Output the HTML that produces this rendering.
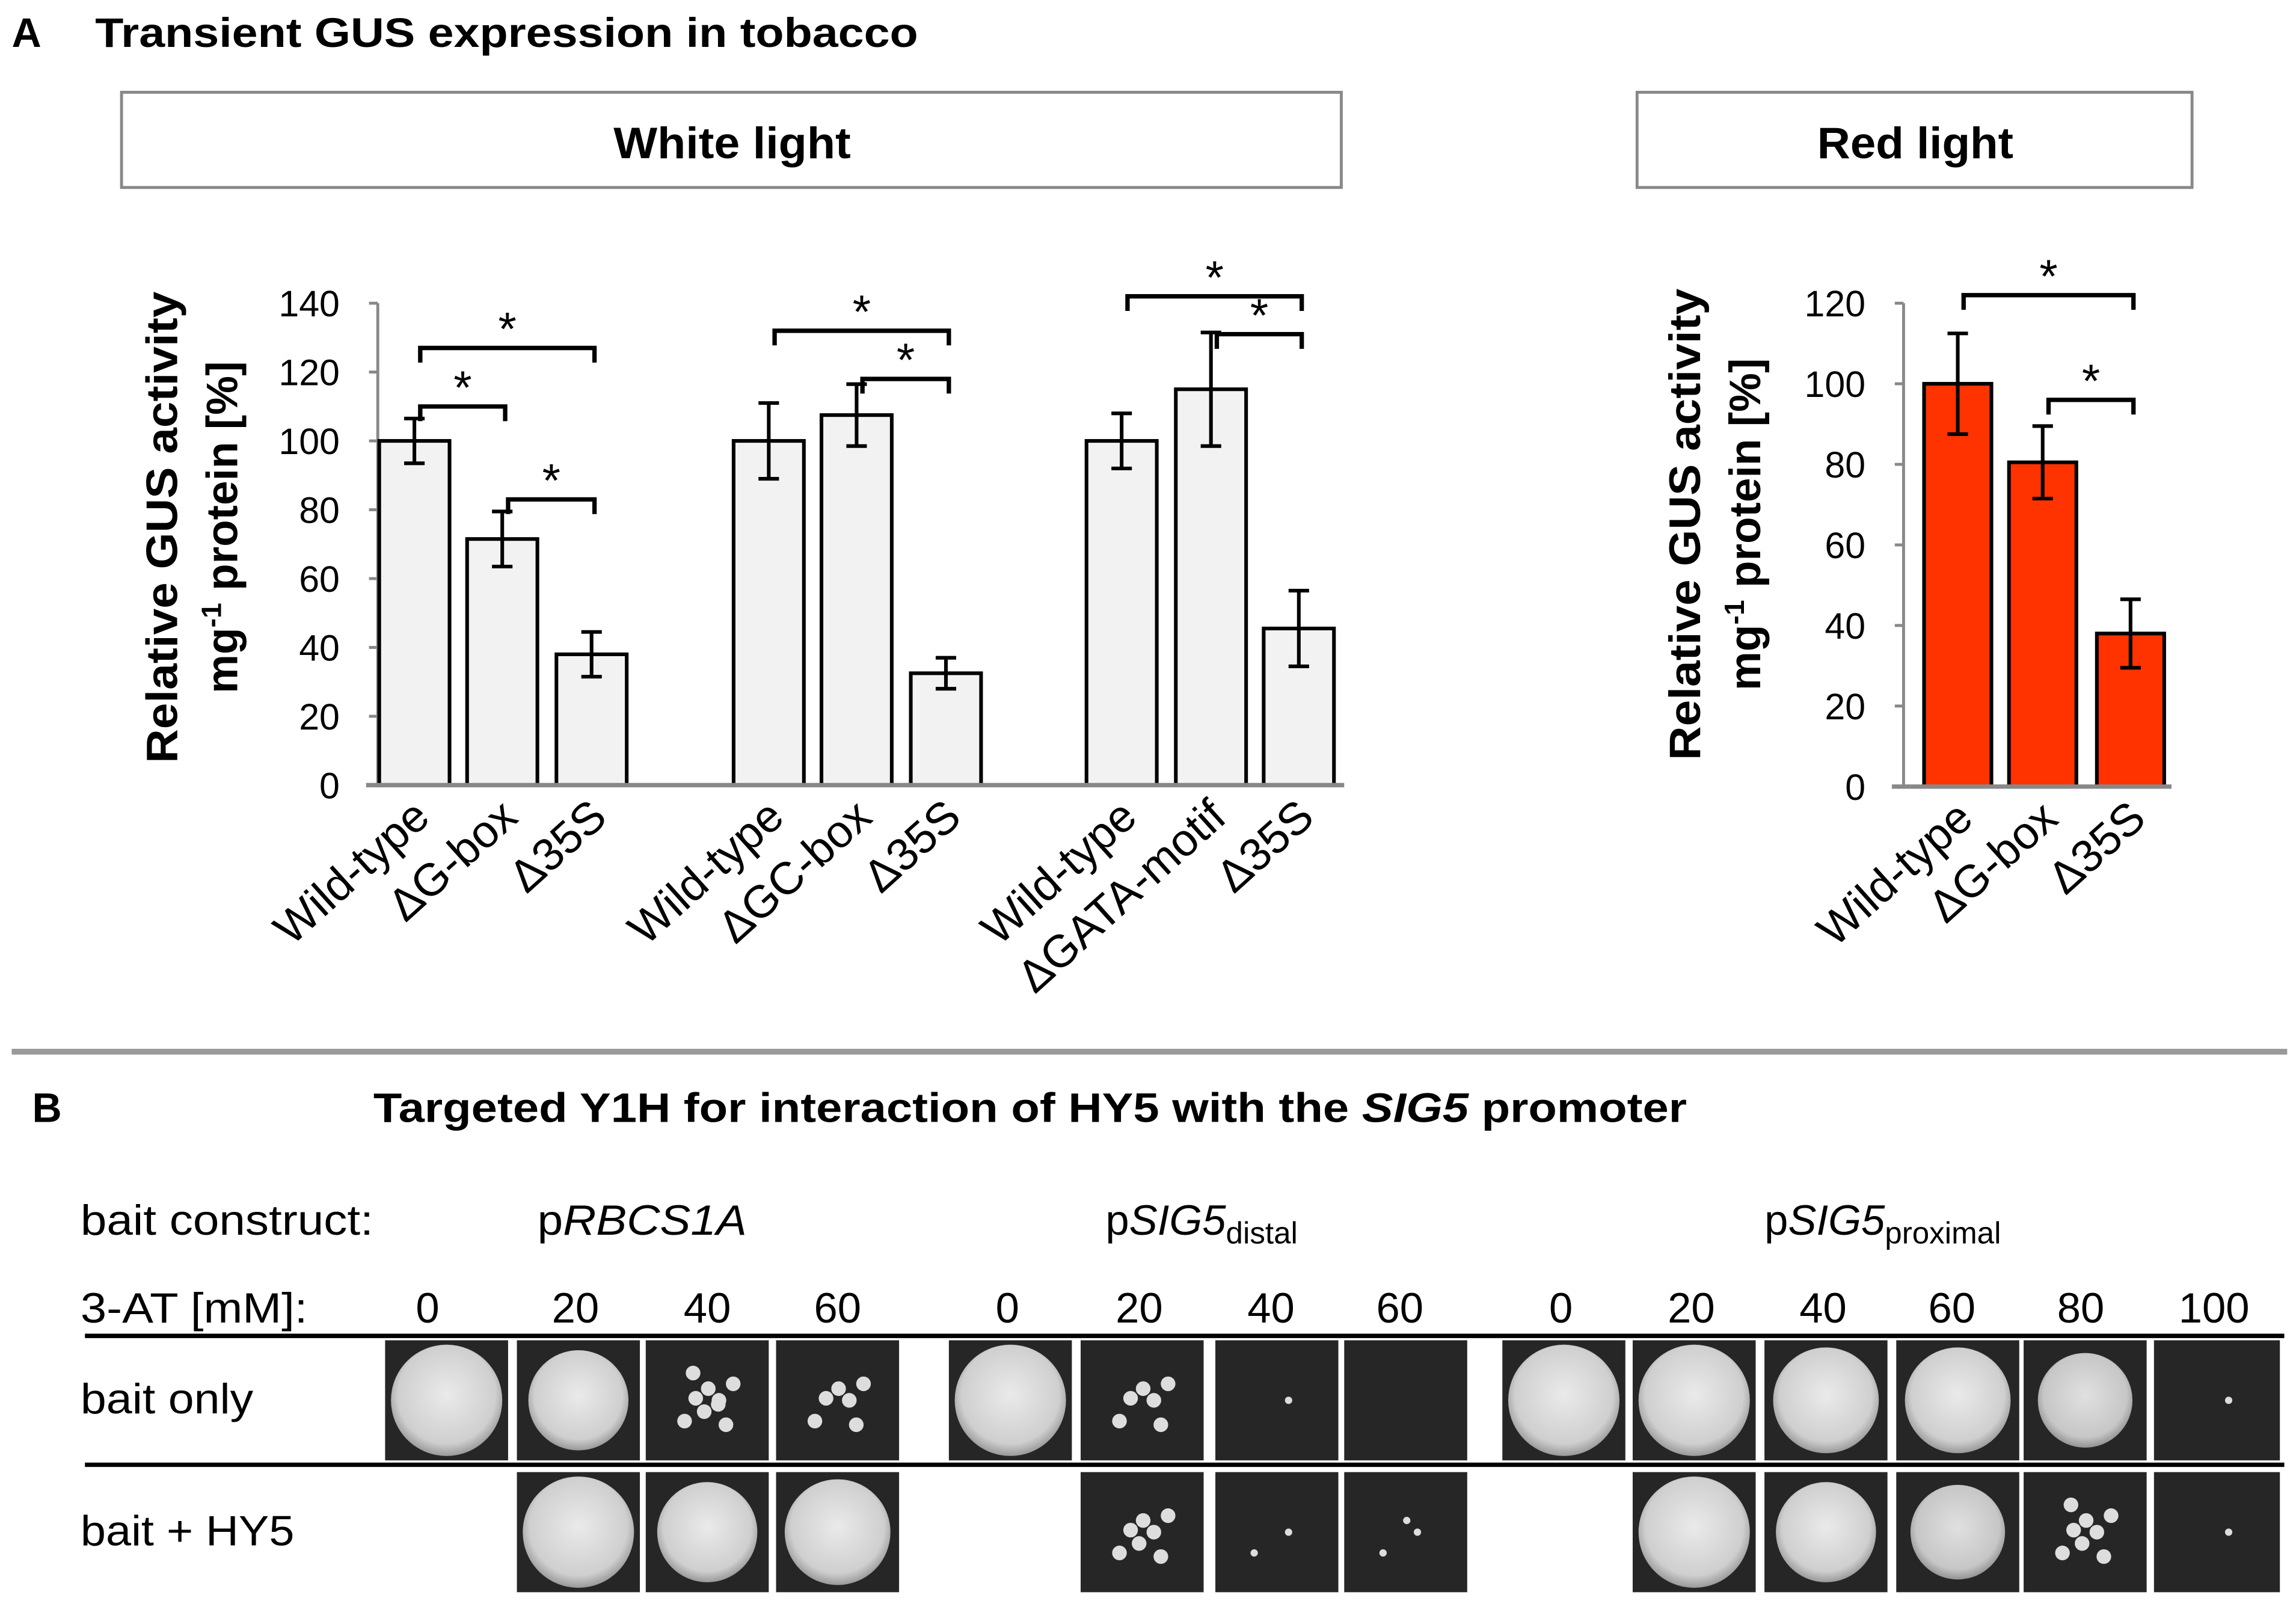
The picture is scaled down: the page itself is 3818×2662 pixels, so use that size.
<!DOCTYPE html>
<html><head><meta charset="utf-8"><style>
html,body{margin:0;padding:0;background:#fff}
svg{display:block}
text{font-family:"Liberation Sans",sans-serif}
</style></head><body>
<svg id="fig" xmlns="http://www.w3.org/2000/svg" width="3818" height="2662" viewBox="0 0 1568 1093" preserveAspectRatio="none">
<defs>
<radialGradient id="col" cx="50%" cy="45%" r="55%"><stop offset="0" stop-color="#eaeaea"/><stop offset="0.8" stop-color="#cfcfcf"/><stop offset="1" stop-color="#999"/></radialGradient>
</defs>
<text x="8" y="32" font-size="28" font-weight="bold">A</text>
<text x="65" y="32" font-size="28" font-weight="bold" textLength="562" lengthAdjust="spacingAndGlyphs">Transient GUS expression in tobacco</text>
<rect x="83" y="63" width="833" height="65" fill="#fff" stroke="#888" stroke-width="2"/>
<text x="500" y="108" font-size="30" font-weight="bold" text-anchor="middle" textLength="162" lengthAdjust="spacingAndGlyphs">White light</text>
<rect x="1118" y="63" width="379" height="65" fill="#fff" stroke="#888" stroke-width="2"/>
<text x="1308" y="108" font-size="30" font-weight="bold" text-anchor="middle" textLength="134" lengthAdjust="spacingAndGlyphs">Red light</text>
<g id="white-chart"></g>
<g id="red-chart"></g>
<line x1="8" y1="718" x2="1562" y2="718" stroke="#999" stroke-width="4"/>
<text x="22" y="766" font-size="28" font-weight="bold">B</text>
<text x="255" y="766" font-size="28" font-weight="bold" textLength="897" lengthAdjust="spacingAndGlyphs">Targeted Y1H for interaction of HY5 with the <tspan font-style="italic">SIG5</tspan> promoter</text>
<text x="55" y="843" font-size="29" textLength="200" lengthAdjust="spacingAndGlyphs">bait construct:</text>
<text x="367" y="843" font-size="29" textLength="143" lengthAdjust="spacingAndGlyphs">p<tspan font-style="italic">RBCS1A</tspan></text>
<text x="755" y="843" font-size="29">p<tspan font-style="italic">SIG5</tspan><tspan font-size="21" dy="6">distal</tspan></text>
<text x="1205" y="843" font-size="29">p<tspan font-style="italic">SIG5</tspan><tspan font-size="21" dy="6">proximal</tspan></text>
<text x="55" y="903" font-size="29" textLength="155" lengthAdjust="spacingAndGlyphs">3-AT [mM]:</text>
<line x1="58" y1="912" x2="1560" y2="912" stroke="#000" stroke-width="3"/>
<line x1="58" y1="1000" x2="1560" y2="1000" stroke="#000" stroke-width="3"/>
<text x="55" y="965" font-size="29" textLength="118" lengthAdjust="spacingAndGlyphs">bait only</text>
<text x="55" y="1055" font-size="29" textLength="146" lengthAdjust="spacingAndGlyphs">bait + HY5</text>
<g id="y1h"></g>
</svg>
<script>
const NS="http://www.w3.org/2000/svg";
function mk(tag,attrs,parent,txt){const e=document.createElementNS(NS,tag);for(const k in attrs)e.setAttribute(k,attrs[k]);if(txt!=null)e.textContent=txt;parent.appendChild(e);return e;}

// ---- White light chart data ----
const whiteCategories=["Wild-type","\u0394G-box","\u039435S","Wild-type","\u0394GC-box","\u039435S","Wild-type","\u0394GATA-motif","\u039435S"];
const whiteValues=[100,71.5,38,100,107.5,32.5,100,115,45.5];
const whiteErrors=[6.5,8,6.5,11,9,4.5,8,16.5,11];
const whiteTicks=[0,20,40,60,80,100,120,140];
const whiteBrackets=[[0,2,127],[0,1,110],[1,2,83],[3,5,132],[4,5,118],[6,8,142],[7,8,131]];
// ---- Red light chart data ----
const redCategories=["Wild-type","\u0394G-box","\u039435S"];
const redValues=[100,80.5,38];
const redErrors=[12.5,9,8.5];
const redTicks=[0,20,40,60,80,100,120];
const redBrackets=[[0,2,122],[1,2,96]];

function chart(g,cfg){
  const y=v=>cfg.y0-(v/cfg.max)*(cfg.y0-cfg.yTop);
  const x=i=>cfg.xs[i];
  const ax=mk('line',{x1:cfg.axX,y1:cfg.yTop,x2:cfg.axX,y2:cfg.y0,stroke:'#888','stroke-width':2},g);
  
  cfg.ticks.forEach(t=>{
    const tl=mk('line',{x1:cfg.axX-6,y1:y(t),x2:cfg.axX,y2:y(t),stroke:'#888','stroke-width':2},g);
    
    const tt=mk('text',{x:cfg.axX-26,y:y(t)+9,'font-size':25,'text-anchor':'end'},g,String(t));
    
  });
  cfg.values.forEach((v,i)=>{
    const b=mk('rect',{x:x(i)-cfg.bw/2,y:y(v),width:cfg.bw,height:cfg.y0-y(v),fill:cfg.fill,stroke:'#000','stroke-width':2.5},g);
    
    const e=cfg.errors[i],hi=y(v+e),lo=y(v-e);
    const eb=mk('path',{d:`M${x(i)} ${hi}V${lo}M${x(i)-7} ${hi}H${x(i)+7}M${x(i)-7} ${lo}H${x(i)+7}`,stroke:'#000','stroke-width':2.5,fill:'none'},g);
    
    const lt=mk('text',{x:0,y:0,'font-size':31,'text-anchor':'end',transform:`translate(${x(i)+12},${cfg.y0+24}) rotate(-42)`},g,cfg.cats[i]);
    
  });
  const xa=mk('line',{x1:cfg.axX-8,y1:cfg.y0,x2:cfg.xEnd,y2:cfg.y0,stroke:'#888','stroke-width':3},g);
  
  cfg.brackets.forEach(br=>{
    const x1=x(br[0])+4,x2=x(br[1])+2,yy=y(br[2]);
    const p=mk('path',{d:`M${x1} ${yy+10}V${yy}H${x2}V${yy+10}`,stroke:'#000','stroke-width':3,fill:'none'},g);
    
    const s=mk('text',{x:(x1+x2)/2,y:yy-2,'font-size':32,'text-anchor':'middle'},g,'*');
    
  });
  const t1=mk('text',{x:0,y:0,'font-size':30,'font-weight':'bold','text-anchor':'middle',textLength:322,lengthAdjust:'spacingAndGlyphs',transform:`translate(${cfg.titleX},${cfg.titleY}) rotate(-90)`},g,'Relative GUS activity');
  
  const t2=mk('text',{x:0,y:0,'font-size':30,'font-weight':'bold','text-anchor':'middle',transform:`translate(${cfg.titleX+41},${cfg.titleY}) rotate(-90)`},g);
  
  t2.innerHTML='mg<tspan font-size="19" dy="-11">-1</tspan><tspan dy="11"> protein [%]</tspan>';
}
chart(document.getElementById('white-chart'),{cats:whiteCategories,values:whiteValues,errors:whiteErrors,ticks:whiteTicks,brackets:whiteBrackets,
  xs:[283,343,404,525,585,646,766,827,887],bw:48,axX:258,y0:536,yTop:207,max:140,xEnd:918,fill:'#f2f2f2',titleX:121,titleY:360});
chart(document.getElementById('red-chart'),{cats:redCategories,values:redValues,errors:redErrors,ticks:redTicks,brackets:redBrackets,
  xs:[1337,1395,1455],bw:46,axX:1300,y0:537,yTop:207,max:120,xEnd:1483,fill:'#ff3300',titleX:1161,titleY:358});

// ---- Y1H grid ----
const y1hConc=["0","20","40","60","0","20","40","60","0","20","40","60","80","100"];
const colX=[263,353,441,530,648,738,830,918,1026,1115,1205,1295,1382,1471];
const labelX=[292,393,483,572,688,778,868,956,1066,1155,1245,1333,1421,1512];
const growthOnly=[1,0.85,0.45,0.3,1,0.3,0.03,0,1,0.95,0.9,0.9,0.8,0.05];
const growthHY5=[null,0.95,0.85,0.9,null,0.35,0.1,0.15,null,0.95,0.85,0.8,0.4,0.05];
const grid=document.getElementById('y1h');
y1hConc.forEach((c,i)=>{
  const t=mk('text',{x:labelX[i],y:903,'font-size':29,'text-anchor':'middle'},grid,c);
  
});
function cell(i,y0,g,nm){
  const x0=colX[i],w=(i==13?86:84),cx=x0+w/2,cy=y0+41;
  const r=mk('rect',{x:x0,y:y0,width:w,height:82,fill:'#262626'},grid);
  
  if(g>0.5){
    const e=mk('ellipse',{cx:cx,cy:cy,rx:38*Math.min(1,g+0.05),ry:38*Math.min(1,g+0.05),fill:'url(#col)',opacity:Math.min(1,g+0.15)},grid);
    
  } else if(g>0.02){
    for(let k=0;k<Math.round(g*20);k++){
      const a=k*2.4,rr=8+((k*13)%26);
      const d=mk('circle',{cx:cx+Math.cos(a)*rr,cy:cy+Math.sin(a)*rr,r:g>0.2?5:2.5,fill:'#ddd'},grid);
      
    }
  }
}
growthOnly.forEach((g,i)=>cell(i,915,g,'plate-bait-only-'+i));
growthHY5.forEach((g,i)=>{if(g!==null)cell(i,1005,g,'plate-bait-hy5-'+i);});
</script>
</body></html>
